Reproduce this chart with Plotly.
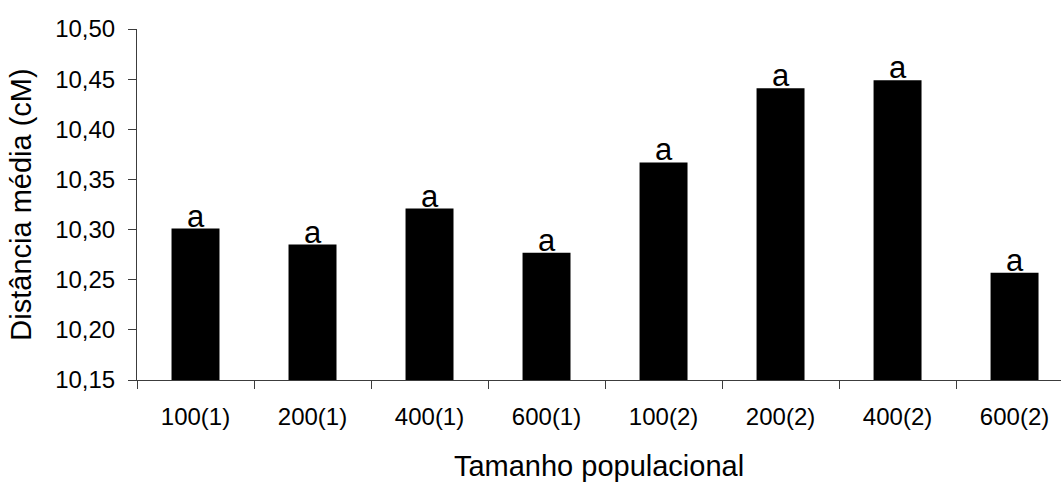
import plotly.graph_objects as go

# Mean map distance (cM) by population size and scenario
categories = ["100(1)", "200(1)", "400(1)", "600(1)", "100(2)", "200(2)", "400(2)", "600(2)"]
mean_distance = [10.301, 10.285, 10.321, 10.277, 10.367, 10.441, 10.449, 10.257]
group_letters = ["a", "a", "a", "a", "a", "a", "a", "a"]
y_ticks = [10.15, 10.20, 10.25, 10.30, 10.35, 10.40, 10.45, 10.50]

FONT = "Liberation Sans, Arial, sans-serif"
AXIS_COLOR = "#3c3c3c"

fig = go.Figure(
    go.Bar(
        x=categories,
        y=mean_distance,
        marker=dict(color="black", line=dict(width=0)),
        hoverinfo="x+y",
    )
)

# significance letters just above each bar
for cat, val, letter in zip(categories, mean_distance, group_letters):
    fig.add_annotation(
        x=cat, y=val, text=letter, showarrow=False,
        xanchor="center", yanchor="bottom", yshift=-7,
        font=dict(family=FONT, size=31, color="black"),
    )

fig.update_layout(
    width=1061,
    height=482,
    margin=dict(l=137, r=0, t=29, b=102),
    paper_bgcolor="white",
    plot_bgcolor="white",
    bargap=0.59,
    separators=",.",
    showlegend=False,
    font=dict(family=FONT, size=24, color="black"),
    xaxis=dict(
        type="category",
        range=[-0.5, 7.397],
        tickson="boundaries",
        ticks="outside",
        ticklen=8,
        tickwidth=1,
        tickcolor=AXIS_COLOR,
        showline=True,
        linecolor=AXIS_COLOR,
        linewidth=1,
        showgrid=False,
        zeroline=False,
        ticklabelstandoff=15,
        tickfont=dict(family=FONT, size=24, color="black"),
        title=dict(text="Tamanho populacional", standoff=30,
                   font=dict(family=FONT, size=29, color="black")),
    ),
    yaxis=dict(
        range=[10.15, 10.50],
        tickvals=y_ticks,
        tickformat=".2f",
        ticks="outside",
        ticklen=8,
        tickwidth=1,
        tickcolor=AXIS_COLOR,
        showline=True,
        linecolor=AXIS_COLOR,
        linewidth=1,
        showgrid=False,
        zeroline=False,
        ticklabelstandoff=8,
        tickfont=dict(family=FONT, size=24, color="black"),
        title=dict(text="Distância média (cM)", standoff=14,
                   font=dict(family=FONT, size=29, color="black")),
    ),
)

fig.write_html("out.html")
